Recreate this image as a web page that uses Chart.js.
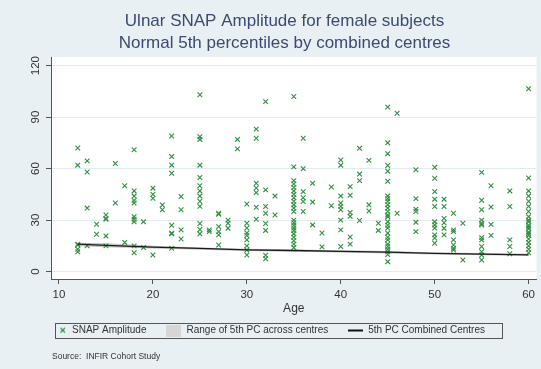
<!DOCTYPE html>
<html>
<head>
<meta charset="utf-8">
<script src="https://cdn.jsdelivr.net/npm/chart.js@4.4.1/dist/chart.umd.min.js"></script>
<style>
  html, body { margin: 0; padding: 0; background: #e8f0f3; }
  #wrap { width: 541px; height: 369px; position: relative; }
</style>
</head>
<body>
<div id="wrap"><canvas id="snapChart"></canvas></div>
<script>
// age columns and the SNAP amplitudes for each age
const ageGroups = [12, 13, 14, 15, 16, 17, 18, 19, 20, 21, 22, 23, 25, 26, 27, 28, 29, 30, 31, 32, 33,
  35, 36, 37, 38, 39, 40, 41, 42, 43, 44, 45, 46, 48, 50, 51, 52, 53, 55, 56, 58, 60];
const amplitudeGroups = [
  [72, 62, 16, 15.5, 11.6, 13],                                   // 12
  [64.5, 58, 37, 15],                                             // 13
  [27.6, 21.8],                                                   // 14
  [33, 31, 30.5, 20.8, 15],                                       // 15
  [63, 40],                                                       // 16
  [50, 17],                                                       // 17
  [71, 47, 44, 41.5, 40, 32, 30.5, 29, 15, 11],                   // 18
  [29, 14],                                                       // 19
  [48.6, 45, 42.7, 9.7],                                          // 20
  [38.8, 36],                                                     // 21
  [79, 67, 62, 57.3, 27, 22.4, 22, 13.6],                         // 22
  [43.7, 36, 24.3, 19],                                           // 23
  [103, 78.6, 77, 62, 54.8, 50, 47, 44, 41, 38, 28, 24.5, 22],    // 25
  [23.3, 24.3],                                                   // 26
  [34, 33.4, 26.2, 23.3, 21.4, 15.5],                             // 27
  [30, 28.2, 25.3],                                               // 28
  [77, 71.5],                                                     // 29
  [39.4, 28.2, 25.4, 22.5, 21, 18.5, 15, 12.6, 9.7],              // 30
  [83, 77.7, 51.5, 48.7, 46, 37.5, 30.5],                         // 31
  [99, 47.6, 37.9, 34, 28, 24, 9.5, 7.5],                         // 32
  [44, 33],                                                       // 33
  [102, 61, 53, 51, 49, 47, 45, 43, 41, 39, 37, 35, 30, 28.5, 27, 25.4, 24, 22, 20, 18, 16, 14], // 35
  [77.7, 60, 46.6, 43, 40.8, 35],                                 // 36
  [51.5, 40.5, 27.2],                                             // 37
  [22.5, 14.4],                                                   // 38
  [49.3, 38.4],                                                   // 39
  [65, 62, 44, 40, 38, 36, 30, 24.3, 14.6],                       // 40
  [49.5, 44.5, 34.4, 32.2, 20.2, 16],                             // 41
  [71.8, 56.8, 53, 29.8],                                         // 42
  [64.8, 38.9, 35.3],                                             // 43
  [28.2, 24],                                                     // 44
  [95.8, 75, 68.7, 61.8, 58.5, 52.6, 44, 42.5, 41, 39, 37, 35, 33, 32, 29, 27, 25.4, 22.4, 20, 18.5, 16, 14.6, 13, 11.6, 10, 5.8], // 45
  [92.2, 34],                                                     // 46
  [59.3, 42.5, 36.4, 35, 28.7, 23.3],                             // 48
  [60.8, 54.4, 46.6, 42.2, 37.9, 29, 27.2, 25.4, 21.4, 19.6, 16.5], // 50
  [42.2, 37.9, 31, 28.5, 25.3, 21.4],                             // 51
  [34, 24.3, 23.3, 18.5, 15.5, 13.6, 12.6],                       // 52
  [28.2, 6.8],                                                    // 53
  [57.8, 41.6, 36, 30, 28.2, 27.2, 19.8, 18.5, 14.6, 11.6, 9.7, 6.8], // 55
  [50, 37.6, 27.5, 21.1],                                         // 56
  [47, 37.9, 18.5, 14.6, 10.4],                                   // 58
  [106.5, 54.5, 47, 44, 41, 38, 35, 32, 30, 29, 27, 26, 25, 23, 22, 21, 19, 17, 15, 13, 11] // 60
];

// 5th percentile (combined centres) and the range across centres
const pcAges = [12, 15, 20, 25, 30, 35, 40, 45, 50, 55, 60];
const pcCombined = [16, 15.3, 14.3, 13.5, 12.7, 12.3, 11.8, 11.3, 10.6, 10.2, 9.8];
const pcRangeLow = [14.8, 14.2, 13.5, 12.8, 12.0, 11.6, 11.1, 10.6, 10.0, 9.6, 9.2];
const pcRangeHigh = [16.8, 16.5, 15.0, 14.1, 13.3, 12.9, 12.5, 12.0, 11.2, 10.8, 10.4];

const xTicks = [10, 20, 30, 40, 50, 60];
const yTicks = [0, 30, 60, 90, 120];

const FONT = '"Liberation Sans", Arial, sans-serif';
const GREEN = '#2f9040';
const TEXT = '#333333';

const snapPoints = [];
ageGroups.forEach((age, i) => {
  amplitudeGroups[i].forEach(v => snapPoints.push({ x: age, y: v }));
});
const toXY = (vals) => pcAges.map((a, i) => ({ x: a, y: vals[i] }));

// little legend symbols
const makeSymbol = (w, h, draw) => {
  const c = document.createElement('canvas');
  c.width = w; c.height = h;
  draw(c.getContext('2d'));
  return c;
};
const crossSymbol = makeSymbol(15, 10, g => {
  g.strokeStyle = GREEN; g.lineWidth = 1.2;
  g.beginPath();
  g.moveTo(8.5, 2.5); g.lineTo(13, 7);
  g.moveTo(13, 2.5); g.lineTo(8.5, 7);
  g.stroke();
});
const rectSymbol = makeSymbol(15, 12, g => { g.fillStyle = '#d6d6d6'; g.fillRect(0, 0, 15, 12); });
const lineSymbol = makeSymbol(15, 3, g => { g.fillStyle = '#111'; g.fillRect(0, 0.5, 15, 2); });

const legendItems = [
  { text: 'SNAP Amplitude', pointStyle: crossSymbol, datasetIndex: 0 },
  { text: 'Range of 5th PC across centres', pointStyle: rectSymbol, datasetIndex: 2 },
  { text: '5th PC Combined Centres', pointStyle: lineSymbol, datasetIndex: 3 },
].map(it => ({ ...it, fillStyle: 'transparent', strokeStyle: 'transparent', lineWidth: 0, hidden: false, fontColor: TEXT }));

const backdrop = {
  id: 'backdrop',
  beforeDraw(chart) {
    const { ctx, chartArea: a } = chart;
    ctx.save();
    ctx.fillStyle = '#e8f0f3';
    ctx.fillRect(0, 0, chart.width, chart.height);
    ctx.fillStyle = '#ffffff';
    ctx.fillRect(a.left, a.top, a.right - a.left, a.bottom - a.top);
    ctx.restore();
  },
  afterDraw(chart) {
    const { ctx } = chart;
    const ys = chart.scales.y;
    ctx.save();
    // rotated y tick labels
    ctx.fillStyle = TEXT;
    ctx.font = '11.5px ' + FONT;
    ctx.textAlign = 'center';
    ctx.textBaseline = 'middle';
    yTicks.forEach(v => {
      ctx.save();
      ctx.translate(36, ys.getPixelForValue(v));
      ctx.rotate(-Math.PI / 2);
      ctx.fillText(String(v), 0, 0);
      ctx.restore();
    });
    // frame round the legend
    const lg = chart.legend;
    const pad = lg.options.labels.padding;
    const x0 = lg.left + pad;
    const x1 = x0 + lg.lineWidths[0] - pad;
    const yc = lg.top + pad + 5;
    ctx.strokeStyle = '#555';
    ctx.lineWidth = 1;
    ctx.strokeRect(Math.round(x0 + 3) + 0.5, Math.round(yc - 8) + 0.5, Math.round(x1 - x0 + 14), 15);
    // source note
    ctx.font = '8.5px ' + FONT;
    ctx.textAlign = 'left';
    ctx.fillText('Source:  INFIR Cohort Study', 52, 356.5);
    ctx.restore();
  }
};

new Chart(document.getElementById('snapChart'), {
  type: 'scatter',
  data: {
    datasets: [
      {
        label: 'SNAP Amplitude',
        data: snapPoints,
        pointStyle: 'crossRot',
        pointRadius: 3.3,
        pointHoverRadius: 3.3,
        borderColor: GREEN,
        backgroundColor: GREEN,
        pointBorderWidth: 1.1,
        order: 1,
      },
      {
        label: 'range low',
        type: 'line',
        data: toXY(pcRangeLow),
        borderWidth: 0,
        pointRadius: 0,
        fill: false,
        order: 2,
      },
      {
        label: 'Range of 5th PC across centres',
        type: 'line',
        data: toXY(pcRangeHigh),
        borderWidth: 0,
        pointRadius: 0,
        backgroundColor: '#c4c4c4',
        fill: '-1',
        order: 2,
      },
      {
        label: '5th PC Combined Centres',
        type: 'line',
        data: toXY(pcCombined),
        borderColor: '#1a1a1a',
        borderWidth: 1.3,
        pointRadius: 0,
        fill: false,
        order: 0,
      },
    ],
  },
  options: {
    responsive: true,
    maintainAspectRatio: false,
    animation: false,
    layout: { padding: { left: 32, right: 4, top: 0, bottom: 23.5 } },
    scales: {
      x: {
        type: 'linear',
        min: 9.15,
        max: 60.85,
        afterBuildTicks: s => { s.ticks = xTicks.map(v => ({ value: v })); },
        afterFit: s => { s.height = 26.5; },
        grid: { drawOnChartArea: false, drawTicks: true, tickLength: 5, tickColor: '#555' },
        border: { display: true, color: '#555', width: 1 },
        ticks: { color: TEXT, font: { family: FONT, size: 11.5 }, padding: 4, maxRotation: 0, autoSkip: false },
        title: { display: true, text: 'Age', color: TEXT, font: { family: FONT, size: 12 }, padding: { top: 0, bottom: -10 } },
      },
      y: {
        min: -4.3,
        max: 125,
        afterBuildTicks: s => { s.ticks = yTicks.map(v => ({ value: v })); },
        afterFit: s => { s.width = 19; },
        grid: { color: '#e2ebee', drawTicks: true, tickLength: 5, tickColor: '#555' },
        border: { display: true, color: '#555', width: 1 },
        ticks: { display: false },
      },
    },
    plugins: {
      title: {
        display: true,
        text: ['Ulnar SNAP Amplitude for female subjects', 'Normal 5th percentiles by combined centres'],
        color: '#3a4a72',
        font: { family: FONT, size: 17, weight: 'normal', lineHeight: 1.25 },
        padding: { top: 11, bottom: 3.5 },
      },
      legend: {
        position: 'bottom',
        align: 'start',
        labels: {
          usePointStyle: true,
          pointStyleWidth: 15,
          padding: 20,
          color: TEXT,
          font: { family: FONT, size: 10 },
          generateLabels: () => legendItems,
        },
      },
      tooltip: { enabled: false },
    },
  },
  plugins: [backdrop],
});
</script>
</body>
</html>
